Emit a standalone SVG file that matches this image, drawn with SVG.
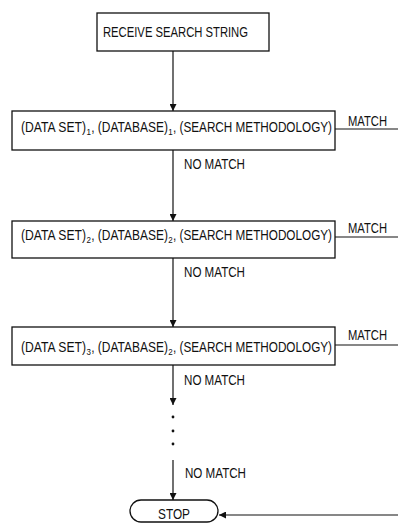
<svg xmlns="http://www.w3.org/2000/svg" width="398" height="524" viewBox="0 0 398 524">
<defs>
<style>
.box{fill:#fff;stroke:#111;stroke-width:1.3}
.ln{fill:none;stroke:#111;stroke-width:1.2}
.t{font-family:"Liberation Sans",Arial,sans-serif;font-size:11.6px;fill:#111}
.m{font-family:"Liberation Sans",Arial,sans-serif;font-size:11.7px;fill:#111}
.s{font-family:"Liberation Sans",Arial,sans-serif;font-size:8px;fill:#111}
</style>
<marker id="ah" viewBox="0 0 10 10" refX="10" refY="5" markerWidth="7" markerHeight="7" markerUnits="userSpaceOnUse" orient="auto">
<path d="M0,0 L10,5 L0,10 Z" fill="#111"/>
</marker>
</defs>
<g id="connectors">
<line class="ln" x1="173" y1="51" x2="173" y2="111" marker-end="url(#ah)"/>
<line class="ln" x1="173" y1="150" x2="173" y2="221" marker-end="url(#ah)"/>
<line class="ln" x1="173" y1="258" x2="173" y2="327" marker-end="url(#ah)"/>
<line class="ln" x1="173" y1="365" x2="173" y2="405" marker-end="url(#ah)"/>
<circle cx="173" cy="417" r="1.4" fill="#111"/>
<circle cx="173" cy="431" r="1.4" fill="#111"/>
<circle cx="173" cy="444" r="1.4" fill="#111"/>
<line class="ln" x1="173" y1="460" x2="173" y2="500" marker-end="url(#ah)"/>
<line class="ln" x1="335" y1="129" x2="398" y2="129"/>
<line class="ln" x1="335" y1="237" x2="398" y2="237"/>
<line class="ln" x1="335" y1="345" x2="398" y2="345"/>
<line class="ln" x1="398" y1="515" x2="219" y2="515" marker-end="url(#ah)"/>
<text class="t" transform="scale(1,1.2)" x="348" y="105" textLength="39" lengthAdjust="spacingAndGlyphs">MATCH</text>
<text class="t" transform="scale(1,1.2)" x="348" y="194.2" textLength="39" lengthAdjust="spacingAndGlyphs">MATCH</text>
<text class="t" transform="scale(1,1.2)" x="348" y="283.3" textLength="39" lengthAdjust="spacingAndGlyphs">MATCH</text>
<text class="t" transform="scale(1,1.2)" x="184" y="140.8" textLength="61" lengthAdjust="spacingAndGlyphs">NO MATCH</text>
<text class="t" transform="scale(1,1.2)" x="184" y="230.8" textLength="61" lengthAdjust="spacingAndGlyphs">NO MATCH</text>
<text class="t" transform="scale(1,1.2)" x="184" y="320.8" textLength="61" lengthAdjust="spacingAndGlyphs">NO MATCH</text>
<text class="t" transform="scale(1,1.2)" x="185" y="398.3" textLength="61" lengthAdjust="spacingAndGlyphs">NO MATCH</text>
</g>
<g id="receive">
<rect class="box" x="97" y="13" width="172" height="38"/>
<text class="t" transform="scale(1,1.2)" x="103" y="30.8" textLength="145" lengthAdjust="spacingAndGlyphs">RECEIVE SEARCH STRING</text>
</g>
<g id="step1">
<rect class="box" x="12" y="111" width="323" height="39"/>
<text class="m" transform="scale(1,1.2)" x="21" y="110" textLength="65" lengthAdjust="spacingAndGlyphs">(DATA SET)</text>
<text class="s" transform="scale(1,1.2)" x="86.4" y="112.5">1</text>
<text class="m" transform="scale(1,1.2)" x="91.2" y="110" textLength="76.7" lengthAdjust="spacingAndGlyphs">, (DATABASE)</text>
<text class="s" transform="scale(1,1.2)" x="168.2" y="112.5">1</text>
<text class="m" transform="scale(1,1.2)" x="173" y="110" textLength="159" lengthAdjust="spacingAndGlyphs">, (SEARCH METHODOLOGY)</text>
</g>
<g id="step2">
<rect class="box" x="12" y="221" width="323" height="37"/>
<text class="m" transform="scale(1,1.2)" x="21" y="200" textLength="65" lengthAdjust="spacingAndGlyphs">(DATA SET)</text>
<text class="s" transform="scale(1,1.2)" x="86.4" y="202.5">2</text>
<text class="m" transform="scale(1,1.2)" x="91.2" y="200" textLength="76.7" lengthAdjust="spacingAndGlyphs">, (DATABASE)</text>
<text class="s" transform="scale(1,1.2)" x="168.2" y="202.5">2</text>
<text class="m" transform="scale(1,1.2)" x="173" y="200" textLength="159" lengthAdjust="spacingAndGlyphs">, (SEARCH METHODOLOGY)</text>
</g>
<g id="step3">
<rect class="box" x="12" y="327" width="323" height="38"/>
<text class="m" transform="scale(1,1.2)" x="21" y="293.3" textLength="65" lengthAdjust="spacingAndGlyphs">(DATA SET)</text>
<text class="s" transform="scale(1,1.2)" x="86.4" y="295.8">3</text>
<text class="m" transform="scale(1,1.2)" x="91.2" y="293.3" textLength="76.7" lengthAdjust="spacingAndGlyphs">, (DATABASE)</text>
<text class="s" transform="scale(1,1.2)" x="168.2" y="295.8">2</text>
<text class="m" transform="scale(1,1.2)" x="173" y="293.3" textLength="159" lengthAdjust="spacingAndGlyphs">, (SEARCH METHODOLOGY)</text>
</g>
<g id="stop">
<rect class="box" x="130" y="500" width="88" height="22" rx="11"/>
<text class="t" transform="scale(1,1.2)" x="158" y="432.5" textLength="32" lengthAdjust="spacingAndGlyphs">STOP</text>
</g>
</svg>
